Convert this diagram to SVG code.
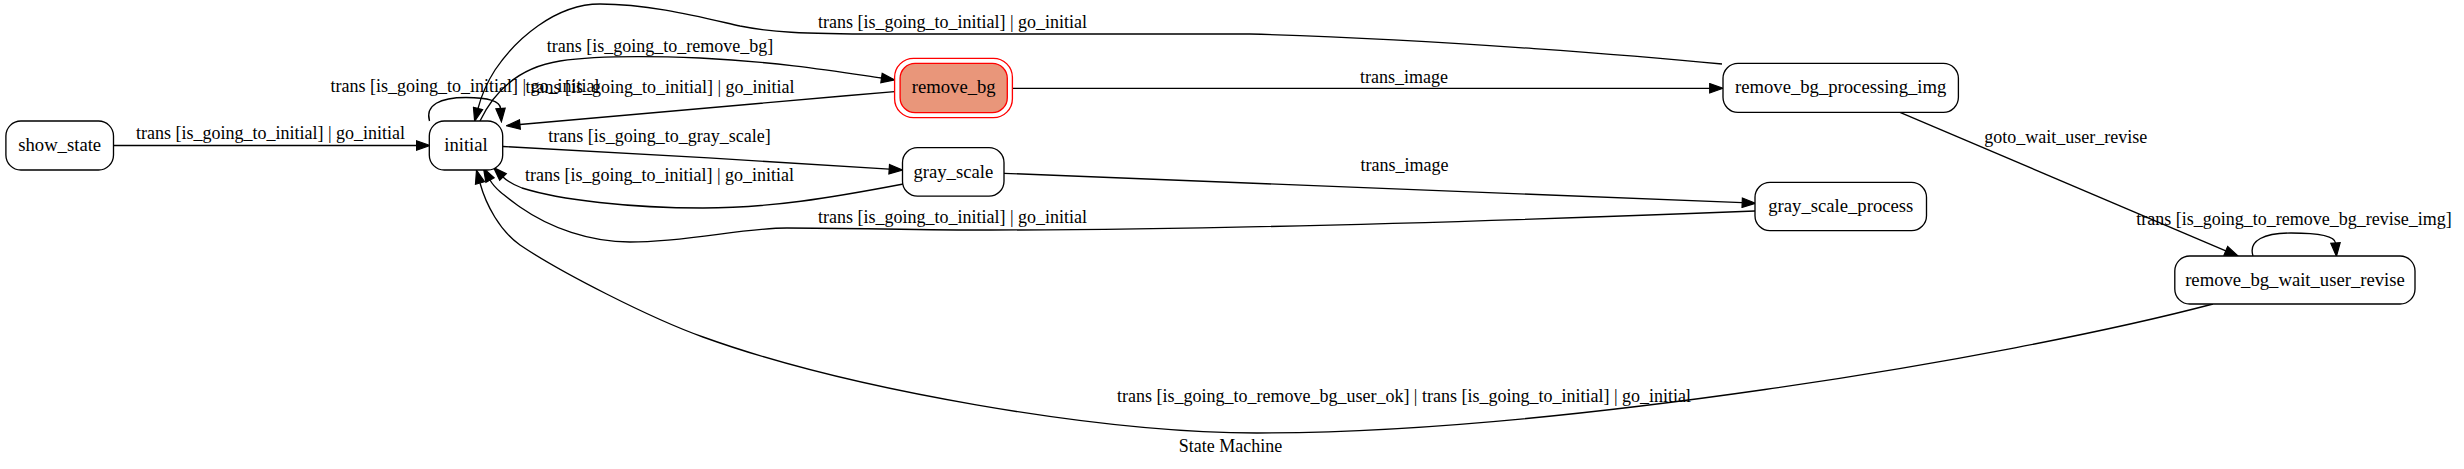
<svg xmlns="http://www.w3.org/2000/svg" width="2464" height="469" viewBox="0 0 2464 469">
<style>
.node rect{fill:#ffffff;stroke:#000000;stroke-width:1.33}
.node text{font-family:"Liberation Serif","Times New Roman",serif;font-size:18.67px;text-anchor:middle;fill:#000000}
.edge{fill:none;stroke:#000000;stroke-width:1.33;marker-end:url(#arrow)}
.elabel{font-family:"Liberation Serif","Times New Roman",serif;font-size:18px;text-anchor:middle;fill:#000000}
</style>
<defs>
<marker id="arrow" markerUnits="userSpaceOnUse" viewBox="-1 -1 15.3 11.4" refX="0" refY="4.7" markerWidth="15.3" markerHeight="11.4" orient="auto">
<path d="M0,0 L13.3,4.7 L0,9.4 Z" fill="#000000" stroke="#000000" stroke-width="1.2"/>
</marker>
</defs>
<rect x="0" y="0" width="2464" height="469" fill="#ffffff"/>

<g id="connectors">
<path class="edge" d="M113.5,145.5 L416.5,145.5"/>
<text class="elabel" x="270.5" y="139.3">trans [is_going_to_initial] | go_initial</text>

<path class="edge" d="M429.5,121 C425,105 440,97.5 466,97.5 C488,97.5 500,101 500.5,108.4"/>
<text class="elabel" x="465" y="91.7">trans [is_going_to_initial] | go_initial</text>

<path class="edge" d="M480,121 C492,96 515,68 560,61 C600,55 650,56 700,58 C780,62 840,72 881.5,78"/>
<text class="elabel" x="660" y="51.7">trans [is_going_to_remove_bg]</text>

<path class="edge" d="M894.6,91.7 C760,103 620,115 519.9,124.5"/>
<text class="elabel" x="660" y="93.3">trans [is_going_to_initial] | go_initial</text>

<path class="edge" d="M503,146.5 C600,151 780,162 889.2,169.2"/>
<text class="elabel" x="659.5" y="141.7">trans [is_going_to_gray_scale]</text>

<path class="edge" d="M903.3,184 C830,198 770,208 703,208 C630,208 560,200 522,188 C514,185 508,182 503,177"/>
<text class="elabel" x="659.5" y="180.7">trans [is_going_to_initial] | go_initial</text>

<path class="edge" d="M1722,64 C1650,57 1450,40 1250,34 L880,34 C800,34 770,32 740,26 C700,17 650,4 600,4 C555,4 515,40 495,70 C486,84 481,97 478,108.5"/>
<text class="elabel" x="952.5" y="28.3">trans [is_going_to_initial] | go_initial</text>

<path class="edge" d="M1012.4,88.3 L1709.7,88.3"/>
<text class="elabel" x="1404" y="82.7">trans_image</text>

<path class="edge" d="M1004,173.3 L1742.2,202.7"/>
<text class="elabel" x="1404.5" y="171">trans_image</text>

<path class="edge" d="M1755,211 C1500,221 1200,230 990,230 C920,230 850,228 787,228 C740,228 690,242 630,242 C590,242 550,228 520,207 C505,196 495,189 490,180"/>
<text class="elabel" x="952.5" y="222.7">trans [is_going_to_initial] | go_initial</text>

<path class="edge" d="M1900,112.3 L2225.8,250.8"/>
<text class="elabel" x="2065.7" y="143.3">goto_wait_user_revise</text>

<path class="edge" d="M2253,256 C2248,240 2265,233 2291,233 C2318,233 2335,236 2335.5,243"/>
<text class="elabel" x="2294" y="225">trans [is_going_to_remove_bg_revise_img]</text>

<path class="edge" d="M2213,304 C2000,360 1550,433 1257,433 C1100,433 850,390 703,337 C650,318 560,272 520,245 C500,231 486,205 480,183"/>
<text class="elabel" x="1404" y="401.7">trans [is_going_to_remove_bg_user_ok] | trans [is_going_to_initial] | go_initial</text>
</g>

<g id="node-show_state" class="node">
<rect x="5.9" y="121" width="107.6" height="49" rx="15" ry="15"/>
<text x="59.7" y="150.7">show_state</text>
</g>
<g id="node-initial" class="node">
<rect x="429.3" y="121" width="73.4" height="49" rx="15" ry="15"/>
<text x="466" y="150.5">initial</text>
</g>
<g id="node-remove_bg" class="node">
<rect x="894.6" y="58.3" width="117.8" height="59.4" rx="19" ry="19" style="fill:#ffffff;stroke:#ff0000"/>
<rect x="900.1" y="63.3" width="107.2" height="49.4" rx="15" ry="15" style="fill:#e9967a;stroke:#ff0000"/>
<text x="953.7" y="93.3">remove_bg</text>
</g>
<g id="node-gray_scale" class="node">
<rect x="902.5" y="147.7" width="101.5" height="48.5" rx="15" ry="15"/>
<text x="953.3" y="177.5">gray_scale</text>
</g>
<g id="node-remove_bg_processing_img" class="node">
<rect x="1723" y="63.3" width="235.4" height="49" rx="15" ry="15"/>
<text x="1840.7" y="93.3">remove_bg_processing_img</text>
</g>
<g id="node-gray_scale_process" class="node">
<rect x="1755" y="182.3" width="171.5" height="48.4" rx="15" ry="15"/>
<text x="1840.8" y="212">gray_scale_process</text>
</g>
<g id="node-remove_bg_wait_user_revise" class="node">
<rect x="2174.8" y="256" width="240.2" height="48" rx="15" ry="15"/>
<text x="2295" y="285.5">remove_bg_wait_user_revise</text>
</g>

<text class="elabel" x="1230.5" y="452.3">State Machine</text>
</svg>
